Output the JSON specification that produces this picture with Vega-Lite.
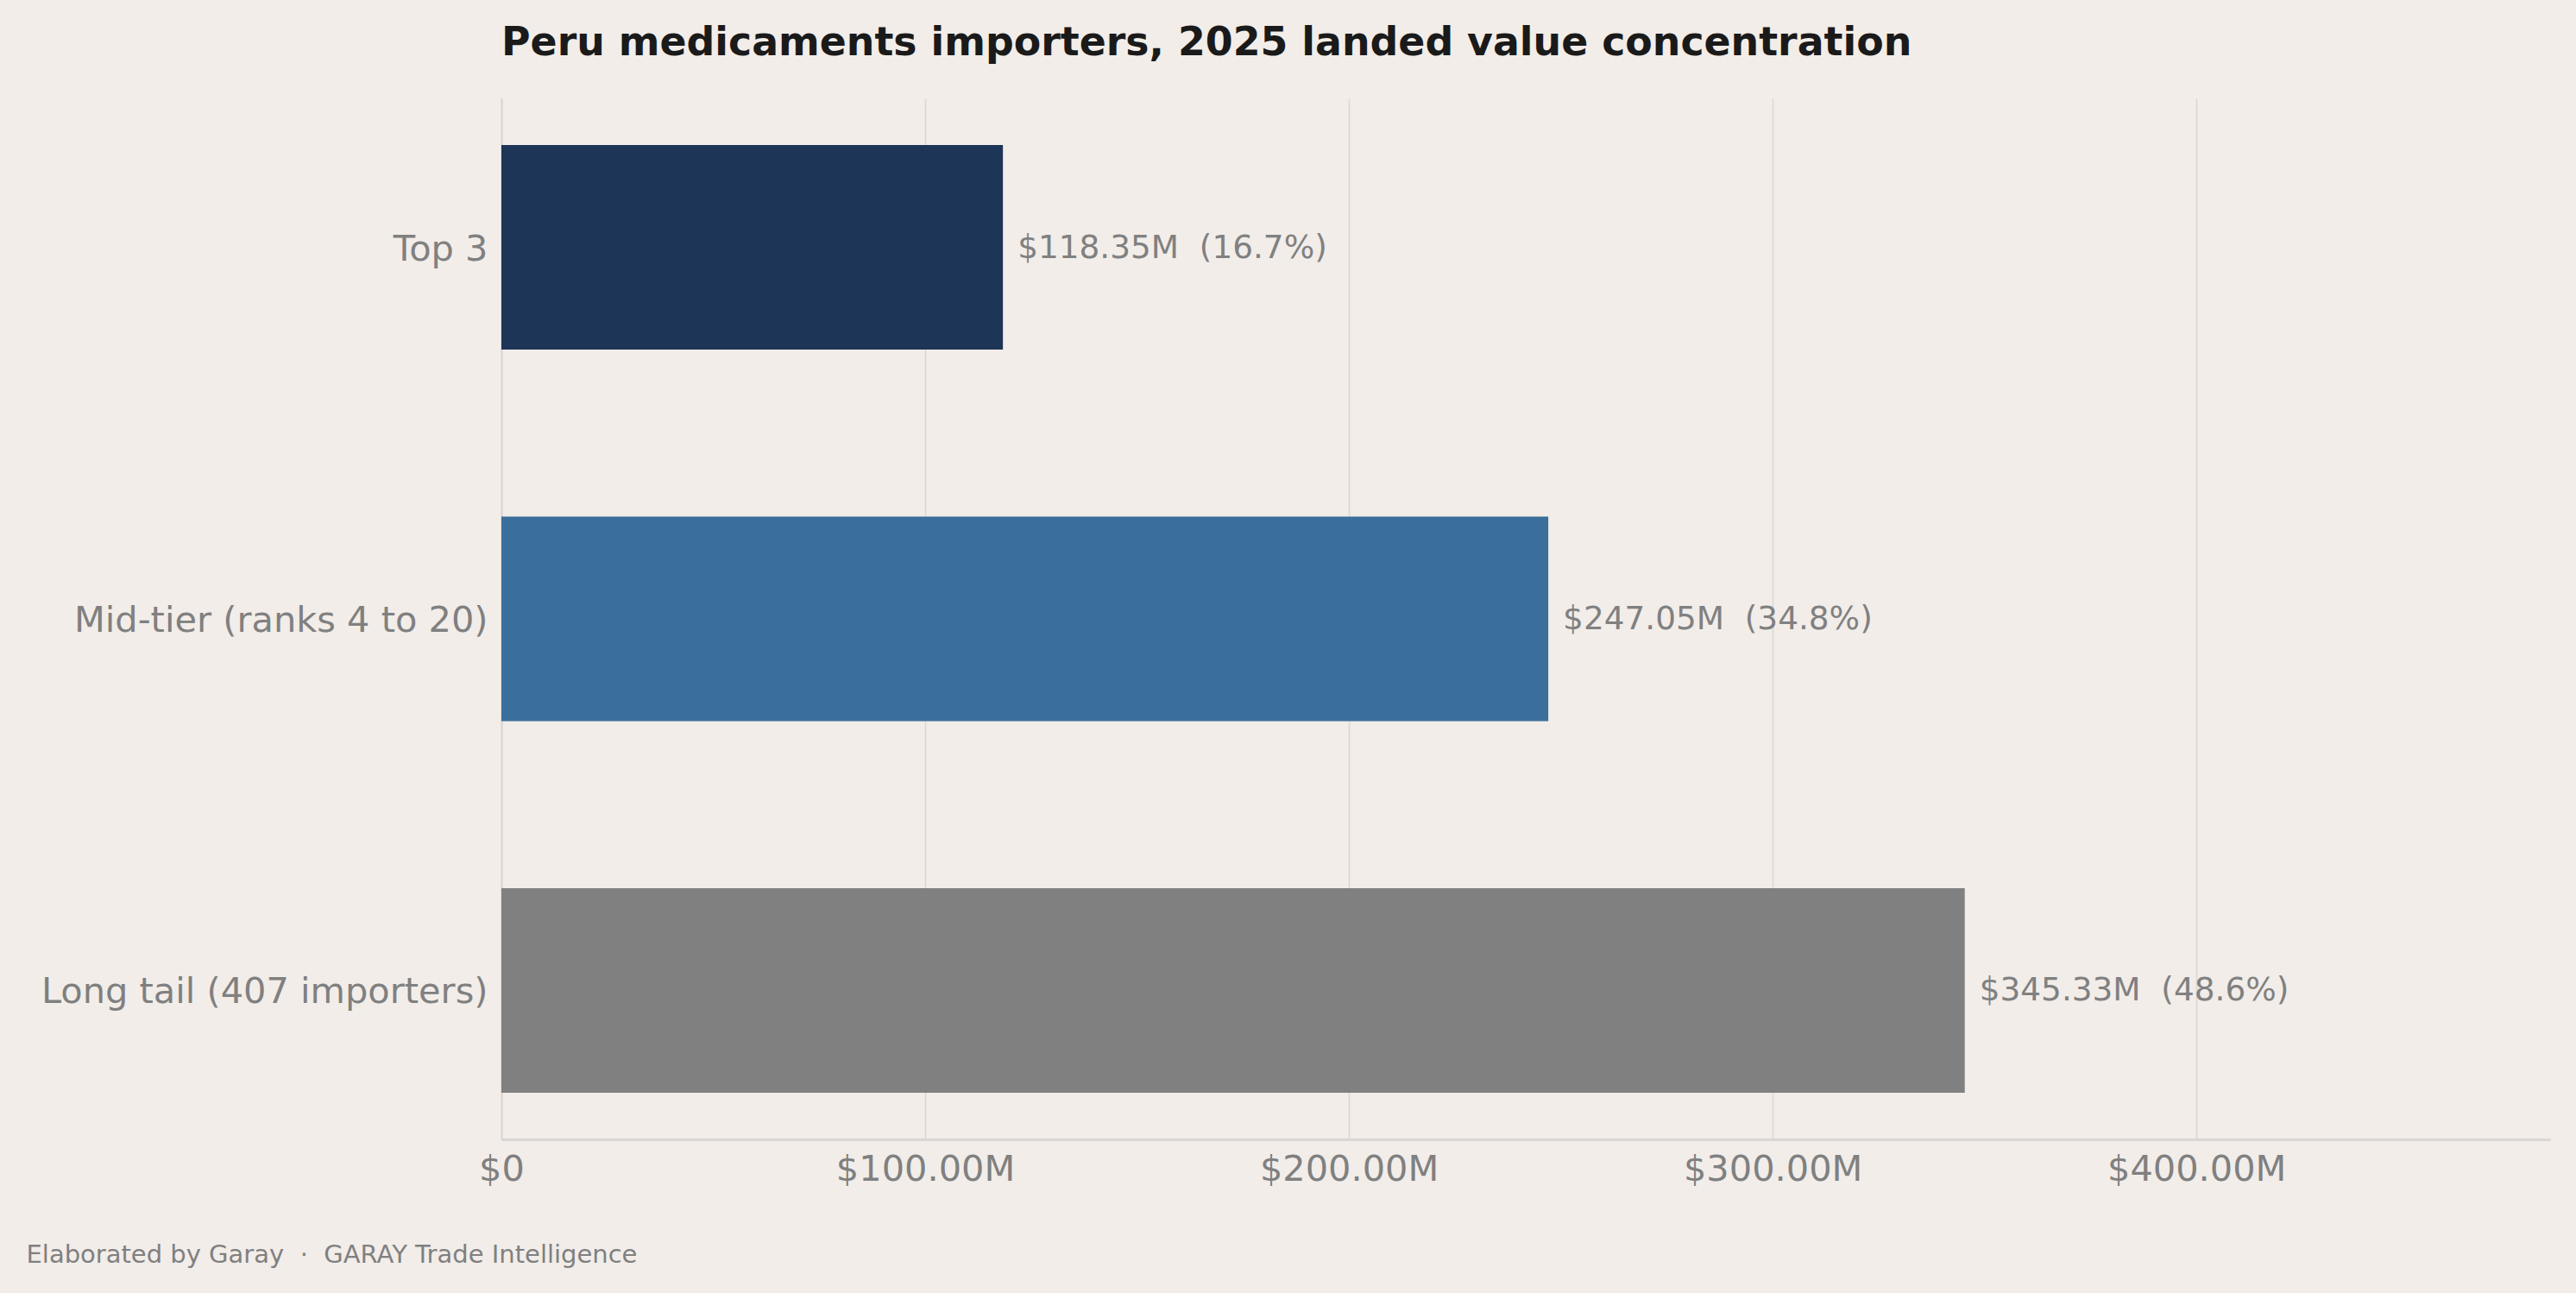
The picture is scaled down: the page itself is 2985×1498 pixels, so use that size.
{
  "$schema": "https://vega.github.io/schema/vega-lite/v6.json",
  "autosize": {"type": "none"},
  "width": 2374,
  "height": 1206,
  "padding": {"left": 581, "top": 114, "right": 30, "bottom": 178},
  "background": "#f2ede9",
  "config": {
    "font": "DejaVu Sans",
    "view": {"stroke": null}
  },
  "title": {
    "text": "Peru medicaments importers, 2025 landed value concentration",
    "anchor": "start",
    "frame": "group",
    "font": "DejaVu Sans",
    "fontSize": 45.8,
    "fontWeight": "bold",
    "color": "#1a1a1a",
    "baseline": "alphabetic",
    "offset": 4
  },
  "data": {
    "values": [
      {"group": "Top 3", "value": 118350000, "label": "$118.35M\u00a0 (16.7%)"},
      {"group": "Mid-tier (ranks 4 to 20)", "value": 247050000, "label": "$247.05M\u00a0 (34.8%)"},
      {"group": "Long tail (407 importers)", "value": 345330000, "label": "$345.33M\u00a0 (48.6%)"}
    ]
  },
  "encoding": {
    "y": {
      "field": "group",
      "type": "nominal",
      "sort": ["Top 3", "Mid-tier (ranks 4 to 20)", "Long tail (407 importers)"],
      "scale": {"paddingInner": 0.4495, "paddingOuter": 0.1255},
      "axis": {
        "title": null,
        "ticks": false,
        "labelFontSize": 41.5,
        "labelColor": "#808080",
        "labelPadding": 16,
        "domainColor": "#d9d6d3",
        "domainWidth": 2,
        "labelLimit": 900,
        "labelOffset": 3
      }
    },
    "x": {
      "field": "value",
      "type": "quantitative",
      "scale": {"domain": [0, 483460000], "nice": false, "zero": true},
      "axis": {
        "values": [0, 100000000, 200000000, 300000000, 400000000],
        "labelExpr": "datum.value == 0 ? '$0' : '$' + format(datum.value / 1000000, '.2f') + 'M'",
        "ticks": false,
        "labelFontSize": 41.5,
        "labelColor": "#808080",
        "labelPadding": 14,
        "labelFlush": false,
        "labelLimit": 600,
        "labelOverlap": false,
        "domainColor": "#d9d6d3",
        "domainWidth": 3,
        "gridColor": "#dad7d4",
        "gridWidth": 1.5,
        "title": "Elaborated by Garay \u00a0\u00b7\u00a0 GARAY Trade Intelligence",
        "titleFontSize": 29,
        "titleFontWeight": "normal",
        "titleColor": "#808080",
        "titleAlign": "left",
        "titleBaseline": "middle",
        "titleX": -551,
        "titleY": 133
      }
    }
  },
  "layer": [
    {
      "mark": {"type": "bar"},
      "encoding": {
        "color": {
          "field": "group",
          "type": "nominal",
          "scale": {
            "domain": ["Top 3", "Mid-tier (ranks 4 to 20)", "Long tail (407 importers)"],
            "range": ["#1d3557", "#3a6f9c", "#808080"]
          },
          "legend": null
        }
      }
    },
    {
      "mark": {"type": "text", "align": "left", "baseline": "middle", "dx": 17, "dy": 1, "fontSize": 37.4, "color": "#808080"},
      "encoding": {
        "text": {"field": "label"}
      }
    }
  ]
}
